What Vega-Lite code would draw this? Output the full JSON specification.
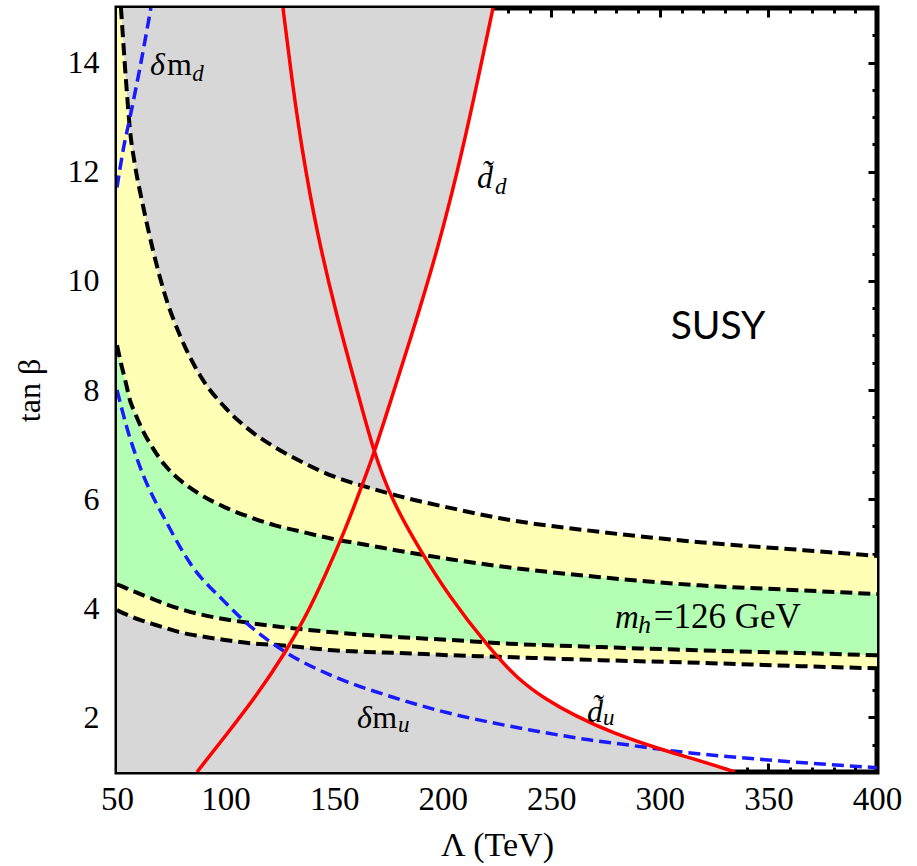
{
  "$schema": "https://vega.github.io/schema/vega-lite/v6.json",
  "width": 760,
  "height": 764,
  "autosize": "none",
  "padding": {"left": 117, "top": 8, "right": 40, "bottom": 94},
  "background": "white",
  "config": {
    "view": {"stroke": "black", "strokeWidth": 5},
    "font": "Liberation Serif",
    "axis": {"labelFont": "Liberation Serif", "titleFont": "Liberation Serif"},
    "style": {"guide-label": {"font": "Liberation Serif"}, "guide-title": {"font": "Liberation Serif"}}
  },
  "datasets": {
    "bands": [
      {"x": 50, "A": 16.0, "B": 8.82, "C": 4.44, "D": 3.97},
      {"x": 51.84, "A": 14.99, "B": 8.49, "C": 4.41, "D": 3.93},
      {"x": 54.14, "A": 13.67, "B": 8.12, "C": 4.37, "D": 3.89},
      {"x": 55.99, "A": 12.76, "B": 7.81, "C": 4.33, "D": 3.86},
      {"x": 58.29, "A": 12.12, "B": 7.58, "C": 4.3, "D": 3.82},
      {"x": 61.97, "A": 11.38, "B": 7.25, "C": 4.24, "D": 3.77},
      {"x": 66.58, "A": 10.56, "B": 6.93, "C": 4.17, "D": 3.71},
      {"x": 72.11, "A": 9.74, "B": 6.62, "C": 4.08, "D": 3.64},
      {"x": 79.01, "A": 9.0, "B": 6.35, "C": 3.99, "D": 3.56},
      {"x": 88.22, "A": 8.27, "B": 6.09, "C": 3.89, "D": 3.49},
      {"x": 99.74, "A": 7.68, "B": 5.85, "C": 3.8, "D": 3.42},
      {"x": 111.25, "A": 7.26, "B": 5.67, "C": 3.73, "D": 3.36},
      {"x": 122.76, "A": 6.95, "B": 5.52, "C": 3.67, "D": 3.33},
      {"x": 134.28, "A": 6.7, "B": 5.41, "C": 3.62, "D": 3.29},
      {"x": 149.47, "A": 6.42, "B": 5.27, "C": 3.56, "D": 3.23},
      {"x": 165.13, "A": 6.22, "B": 5.16, "C": 3.51, "D": 3.2},
      {"x": 180.33, "A": 6.05, "B": 5.05, "C": 3.47, "D": 3.18},
      {"x": 203.36, "A": 5.84, "B": 4.9, "C": 3.42, "D": 3.14},
      {"x": 226.38, "A": 5.65, "B": 4.77, "C": 3.36, "D": 3.11},
      {"x": 272.44, "A": 5.4, "B": 4.57, "C": 3.29, "D": 3.05},
      {"x": 318.49, "A": 5.21, "B": 4.42, "C": 3.23, "D": 3.0},
      {"x": 364.54, "A": 5.07, "B": 4.33, "C": 3.18, "D": 2.94},
      {"x": 400, "A": 4.96, "B": 4.26, "C": 3.14, "D": 2.9}
    ],
    "gray": [
      {"y": 1.0, "x": 334.6},
      {"y": 1.22, "x": 317.57},
      {"y": 1.4, "x": 301.45},
      {"y": 1.71, "x": 278.42},
      {"y": 2.03, "x": 260.92},
      {"y": 2.34, "x": 247.11},
      {"y": 2.7, "x": 234.67},
      {"y": 3.23, "x": 222.24},
      {"y": 4.21, "x": 202.9},
      {"y": 5.19, "x": 187.7},
      {"y": 5.98, "x": 176.65},
      {"y": 6.84, "x": 168.36},
      {"y": 7.76, "x": 175.72},
      {"y": 8.91, "x": 184.93},
      {"y": 10.52, "x": 197.37},
      {"y": 12.39, "x": 209.34},
      {"y": 15.0, "x": 223.2}
    ],
    "red": [
      {"curve": "du", "x": 126.45, "y": 15.0},
      {"curve": "du", "x": 130.59, "y": 13.67},
      {"curve": "du", "x": 135.2, "y": 12.39},
      {"curve": "du", "x": 142.11, "y": 10.87},
      {"curve": "du", "x": 151.32, "y": 9.33},
      {"curve": "du", "x": 160.53, "y": 8.0},
      {"curve": "du", "x": 168.36, "y": 6.84},
      {"curve": "du", "x": 176.65, "y": 5.98},
      {"curve": "du", "x": 187.7, "y": 5.19},
      {"curve": "du", "x": 202.9, "y": 4.21},
      {"curve": "du", "x": 222.24, "y": 3.23},
      {"curve": "du", "x": 234.67, "y": 2.7},
      {"curve": "du", "x": 247.11, "y": 2.34},
      {"curve": "du", "x": 260.92, "y": 2.03},
      {"curve": "du", "x": 278.42, "y": 1.71},
      {"curve": "du", "x": 301.45, "y": 1.4},
      {"curve": "du", "x": 317.57, "y": 1.22},
      {"curve": "du", "x": 334.6, "y": 1.0},
      {"curve": "dd", "x": 86.84, "y": 1.0},
      {"curve": "dd", "x": 100.66, "y": 1.7},
      {"curve": "dd", "x": 114.47, "y": 2.41},
      {"curve": "dd", "x": 127.37, "y": 3.18},
      {"curve": "dd", "x": 136.58, "y": 3.82},
      {"curve": "dd", "x": 145.79, "y": 4.59},
      {"curve": "dd", "x": 155.0, "y": 5.43},
      {"curve": "dd", "x": 161.91, "y": 6.15},
      {"curve": "dd", "x": 168.36, "y": 6.84},
      {"curve": "dd", "x": 175.72, "y": 7.76},
      {"curve": "dd", "x": 184.93, "y": 8.91},
      {"curve": "dd", "x": 197.37, "y": 10.52},
      {"curve": "dd", "x": 209.34, "y": 12.39},
      {"curve": "dd", "x": 223.16, "y": 15.0}
    ],
    "blue": [
      {"curve": "mu", "x": 50, "y": 8.0},
      {"curve": "mu", "x": 55, "y": 7.25},
      {"curve": "mu", "x": 60.6, "y": 6.59},
      {"curve": "mu", "x": 73.0, "y": 5.56},
      {"curve": "mu", "x": 85.0, "y": 4.75},
      {"curve": "mu", "x": 98.8, "y": 4.15},
      {"curve": "mu", "x": 106.6, "y": 3.84},
      {"curve": "mu", "x": 128.3, "y": 3.18},
      {"curve": "mu", "x": 148.1, "y": 2.78},
      {"curve": "mu", "x": 177.1, "y": 2.37},
      {"curve": "mu", "x": 194.1, "y": 2.17},
      {"curve": "mu", "x": 240.2, "y": 1.77},
      {"curve": "mu", "x": 267.4, "y": 1.59},
      {"curve": "mu", "x": 286.3, "y": 1.49},
      {"curve": "mu", "x": 309.3, "y": 1.37},
      {"curve": "mu", "x": 350, "y": 1.22},
      {"curve": "mu", "x": 400, "y": 1.08},
      {"curve": "md", "x": 50, "y": 11.71},
      {"curve": "md", "x": 52.8, "y": 12.39},
      {"curve": "md", "x": 56.0, "y": 13.0},
      {"curve": "md", "x": 60.6, "y": 13.91},
      {"curve": "md", "x": 65.6, "y": 15.0}
    ]
  },
  "resolve": {"axis": {"x": "independent", "y": "independent"}},
  "layer": [
    {
      "data": {"name": "gray"},
      "mark": {"type": "area", "orient": "horizontal", "color": "#d7d7d7", "clip": true},
      "encoding": {
        "y": {"field": "y", "type": "quantitative", "scale": {"domain": [1, 15], "nice": false, "zero": false},
          "axis": {
            "orient": "left",
            "values": [1,1.5,2,2.5,3,3.5,4,4.5,5,5.5,6,6.5,7,7.5,8,8.5,9,9.5,10,10.5,11,11.5,12,12.5,13,13.5,14,14.5,15],
            "labelExpr": "datum.value % 2 === 0 ? format(datum.value, 'd') : ''",
            "tickSize": {"condition": {"test": "datum.value % 2 === 0", "value": -9}, "value": -5},
            "tickWidth": 3, "tickColor": "black", "domain": false, "grid": false,
            "labelFontSize": 32, "labelFont": "Liberation Serif", "labelColor": "black",
            "labelPadding": 27, "labelFlush": false, "labelOverlap": false,
            "title": "tan β", "titleFont": "Liberation Serif", "titleFontSize": 32, "titleFontWeight": "normal",
            "titleColor": "black", "titlePadding": 21
          }},
        "x": {"field": "x", "type": "quantitative", "scale": {"domain": [50, 400], "nice": false, "zero": false},
          "axis": {
            "orient": "bottom",
            "values": [50,60,70,80,90,100,110,120,130,140,150,160,170,180,190,200,210,220,230,240,250,260,270,280,290,300,310,320,330,340,350,360,370,380,390,400],
            "labelExpr": "datum.value % 50 === 0 ? datum.label : ''",
            "tickSize": {"condition": {"test": "datum.value % 50 === 0", "value": -9}, "value": -5},
            "tickWidth": 3, "tickColor": "black", "domain": false, "grid": false,
            "labelFontSize": 33, "labelFont": "Liberation Serif", "labelColor": "black",
            "labelPadding": 20, "labelFlush": false, "labelOverlap": false,
            "title": "Λ (TeV)", "titleFont": "Liberation Serif", "titleFontSize": 34, "titleFontWeight": "normal",
            "titleColor": "black", "titlePadding": 8
          }},
        "x2": {"datum": 50}
      }
    },
    {
      "data": {"name": "bands"},
      "mark": {"type": "area", "color": "#ffffb6", "interpolate": "monotone", "clip": true},
      "encoding": {
        "x": {"field": "x", "type": "quantitative", "scale": {"domain": [50, 400], "nice": false, "zero": false},
          "axis": {
            "orient": "top",
            "values": [50,60,70,80,90,100,110,120,130,140,150,160,170,180,190,200,210,220,230,240,250,260,270,280,290,300,310,320,330,340,350,360,370,380,390,400],
            "labels": false,
            "tickSize": {"condition": {"test": "datum.value % 50 === 0", "value": -9}, "value": -5},
            "tickWidth": 3, "tickColor": "black", "domain": false, "grid": false, "title": null
          }},
        "y": {"field": "D", "type": "quantitative", "scale": {"domain": [1, 15], "nice": false, "zero": false},
          "axis": {
            "orient": "right",
            "values": [1,1.5,2,2.5,3,3.5,4,4.5,5,5.5,6,6.5,7,7.5,8,8.5,9,9.5,10,10.5,11,11.5,12,12.5,13,13.5,14,14.5,15],
            "labels": false,
            "tickSize": {"condition": {"test": "datum.value % 2 === 0", "value": -9}, "value": -5},
            "tickWidth": 3, "tickColor": "black", "domain": false, "grid": false, "title": null
          }},
        "y2": {"field": "A"}
      }
    },
    {
      "data": {"name": "bands"},
      "mark": {"type": "area", "color": "#b4ffb4", "interpolate": "monotone", "clip": true},
      "encoding": {
        "x": {"field": "x", "type": "quantitative", "scale": {"domain": [50, 400], "nice": false, "zero": false}, "axis": null},
        "y": {"field": "C", "type": "quantitative", "scale": {"domain": [1, 15], "nice": false, "zero": false}, "axis": null},
        "y2": {"field": "B"}
      }
    },
    {
      "data": {"name": "bands"},
      "transform": [{"fold": ["A", "B", "C", "D"], "as": ["curve", "yv"]}],
      "mark": {"type": "line", "color": "black", "strokeWidth": 4, "strokeDash": [12, 6], "interpolate": "monotone", "clip": true},
      "encoding": {
        "x": {"field": "x", "type": "quantitative", "scale": {"domain": [50, 400], "nice": false, "zero": false}, "axis": null},
        "y": {"field": "yv", "type": "quantitative", "scale": {"domain": [1, 15], "nice": false, "zero": false}, "axis": null},
        "detail": {"field": "curve"}
      }
    },
    {
      "data": {"name": "blue"},
      "mark": {"type": "line", "color": "#1a1aff", "strokeWidth": 3.5, "strokeDash": [12, 6], "interpolate": "monotone", "clip": true},
      "encoding": {
        "x": {"field": "x", "type": "quantitative", "scale": {"domain": [50, 400], "nice": false, "zero": false}, "axis": null},
        "y": {"field": "y", "type": "quantitative", "scale": {"domain": [1, 15], "nice": false, "zero": false}, "axis": null},
        "detail": {"field": "curve"}
      }
    },
    {
      "data": {"name": "red"},
      "mark": {"type": "line", "color": "#ff0000", "strokeWidth": 3.5, "interpolate": "basis", "clip": true},
      "encoding": {
        "x": {"field": "x", "type": "quantitative", "scale": {"domain": [50, 400], "nice": false, "zero": false}, "axis": null},
        "y": {"field": "y", "type": "quantitative", "scale": {"domain": [1, 15], "nice": false, "zero": false}, "axis": null},
        "detail": {"field": "curve"}
      }
    },
    {
      "data": {"values": [{"t": "SUSY"}]},
      "mark": {"type": "text", "font": "Lato", "fontSize": 39, "color": "black", "align": "center", "baseline": "middle"},
      "encoding": {
        "x": {"datum": 326.8, "type": "quantitative", "scale": {"domain": [50, 400], "nice": false, "zero": false}, "axis": null},
        "y": {"datum": 9.15, "type": "quantitative", "scale": {"domain": [1, 15], "nice": false, "zero": false}, "axis": null},
        "text": {"field": "t"}
      }
    },
    {
      "data": {"values": [{"t": "m"}]},
      "mark": {"type": "text", "font": "Liberation Serif", "fontStyle": "italic", "fontSize": 33, "color": "black", "align": "left", "baseline": "alphabetic"},
      "encoding": {
        "x": {"datum": 279.3, "type": "quantitative", "scale": {"domain": [50, 400], "nice": false, "zero": false}, "axis": null},
        "y": {"datum": 3.637, "type": "quantitative", "scale": {"domain": [1, 15], "nice": false, "zero": false}, "axis": null},
        "text": {"field": "t"}
      }
    },
    {
      "data": {"values": [{"t": "h"}]},
      "mark": {"type": "text", "font": "Liberation Serif", "fontStyle": "italic", "fontSize": 26, "color": "black", "align": "left", "baseline": "alphabetic"},
      "encoding": {
        "x": {"datum": 289.9, "type": "quantitative", "scale": {"domain": [50, 400], "nice": false, "zero": false}, "axis": null},
        "y": {"datum": 3.55, "type": "quantitative", "scale": {"domain": [1, 15], "nice": false, "zero": false}, "axis": null},
        "text": {"field": "t"}
      }
    },
    {
      "data": {"values": [{"t": "=126 GeV"}]},
      "mark": {"type": "text", "font": "Liberation Serif", "fontSize": 35, "color": "black", "align": "left", "baseline": "alphabetic"},
      "encoding": {
        "x": {"datum": 297.2, "type": "quantitative", "scale": {"domain": [50, 400], "nice": false, "zero": false}, "axis": null},
        "y": {"datum": 3.637, "type": "quantitative", "scale": {"domain": [1, 15], "nice": false, "zero": false}, "axis": null},
        "text": {"field": "t"}
      }
    },
    {
      "data": {"values": [{"t": "δ"}]},
      "mark": {"type": "text", "font": "Liberation Serif", "fontStyle": "italic", "fontSize": 32, "color": "black", "align": "left", "baseline": "alphabetic"},
      "encoding": {
        "x": {"datum": 65.2, "type": "quantitative", "scale": {"domain": [50, 400], "nice": false, "zero": false}, "axis": null},
        "y": {"datum": 13.77, "type": "quantitative", "scale": {"domain": [1, 15], "nice": false, "zero": false}, "axis": null},
        "text": {"field": "t"}
      }
    },
    {
      "data": {"values": [{"t": "m"}]},
      "mark": {"type": "text", "font": "Liberation Serif", "fontSize": 32, "color": "black", "align": "left", "baseline": "alphabetic"},
      "encoding": {
        "x": {"datum": 73.0, "type": "quantitative", "scale": {"domain": [50, 400], "nice": false, "zero": false}, "axis": null},
        "y": {"datum": 13.77, "type": "quantitative", "scale": {"domain": [1, 15], "nice": false, "zero": false}, "axis": null},
        "text": {"field": "t"}
      }
    },
    {
      "data": {"values": [{"t": "d"}]},
      "mark": {"type": "text", "font": "Liberation Serif", "fontStyle": "italic", "fontSize": 23, "color": "black", "align": "left", "baseline": "alphabetic"},
      "encoding": {
        "x": {"datum": 84.6, "type": "quantitative", "scale": {"domain": [50, 400], "nice": false, "zero": false}, "axis": null},
        "y": {"datum": 13.66, "type": "quantitative", "scale": {"domain": [1, 15], "nice": false, "zero": false}, "axis": null},
        "text": {"field": "t"}
      }
    },
    {
      "data": {"values": [{"t": "δ"}]},
      "mark": {"type": "text", "font": "Liberation Serif", "fontStyle": "italic", "fontSize": 32, "color": "black", "align": "left", "baseline": "alphabetic"},
      "encoding": {
        "x": {"datum": 160.5, "type": "quantitative", "scale": {"domain": [50, 400], "nice": false, "zero": false}, "axis": null},
        "y": {"datum": 1.806, "type": "quantitative", "scale": {"domain": [1, 15], "nice": false, "zero": false}, "axis": null},
        "text": {"field": "t"}
      }
    },
    {
      "data": {"values": [{"t": "m"}]},
      "mark": {"type": "text", "font": "Liberation Serif", "fontSize": 32, "color": "black", "align": "left", "baseline": "alphabetic"},
      "encoding": {
        "x": {"datum": 167.6, "type": "quantitative", "scale": {"domain": [50, 400], "nice": false, "zero": false}, "axis": null},
        "y": {"datum": 1.806, "type": "quantitative", "scale": {"domain": [1, 15], "nice": false, "zero": false}, "axis": null},
        "text": {"field": "t"}
      }
    },
    {
      "data": {"values": [{"t": "u"}]},
      "mark": {"type": "text", "font": "Liberation Serif", "fontStyle": "italic", "fontSize": 23, "color": "black", "align": "left", "baseline": "alphabetic"},
      "encoding": {
        "x": {"datum": 179.4, "type": "quantitative", "scale": {"domain": [50, 400], "nice": false, "zero": false}, "axis": null},
        "y": {"datum": 1.733, "type": "quantitative", "scale": {"domain": [1, 15], "nice": false, "zero": false}, "axis": null},
        "text": {"field": "t"}
      }
    },
    {
      "data": {"values": [{"t": "d̃"}]},
      "mark": {"type": "text", "font": "Liberation Serif", "fontStyle": "italic", "fontSize": 32, "color": "black", "align": "left", "baseline": "alphabetic"},
      "encoding": {
        "x": {"datum": 266.5, "type": "quantitative", "scale": {"domain": [50, 400], "nice": false, "zero": false}, "axis": null},
        "y": {"datum": 1.916, "type": "quantitative", "scale": {"domain": [1, 15], "nice": false, "zero": false}, "axis": null},
        "text": {"field": "t"}
      }
    },
    {
      "data": {"values": [{"t": "u"}]},
      "mark": {"type": "text", "font": "Liberation Serif", "fontStyle": "italic", "fontSize": 23, "color": "black", "align": "left", "baseline": "alphabetic"},
      "encoding": {
        "x": {"datum": 273.8, "type": "quantitative", "scale": {"domain": [50, 400], "nice": false, "zero": false}, "axis": null},
        "y": {"datum": 1.86, "type": "quantitative", "scale": {"domain": [1, 15], "nice": false, "zero": false}, "axis": null},
        "text": {"field": "t"}
      }
    },
    {
      "data": {"values": [{"t": "d̃"}]},
      "mark": {"type": "text", "font": "Liberation Serif", "fontStyle": "italic", "fontSize": 32, "color": "black", "align": "left", "baseline": "alphabetic"},
      "encoding": {
        "x": {"datum": 215.8, "type": "quantitative", "scale": {"domain": [50, 400], "nice": false, "zero": false}, "axis": null},
        "y": {"datum": 11.7, "type": "quantitative", "scale": {"domain": [1, 15], "nice": false, "zero": false}, "axis": null},
        "text": {"field": "t"}
      }
    },
    {
      "data": {"values": [{"t": "d"}]},
      "mark": {"type": "text", "font": "Liberation Serif", "fontStyle": "italic", "fontSize": 23, "color": "black", "align": "left", "baseline": "alphabetic"},
      "encoding": {
        "x": {"datum": 224.1, "type": "quantitative", "scale": {"domain": [50, 400], "nice": false, "zero": false}, "axis": null},
        "y": {"datum": 11.6, "type": "quantitative", "scale": {"domain": [1, 15], "nice": false, "zero": false}, "axis": null},
        "text": {"field": "t"}
      }
    }
  ]
}
